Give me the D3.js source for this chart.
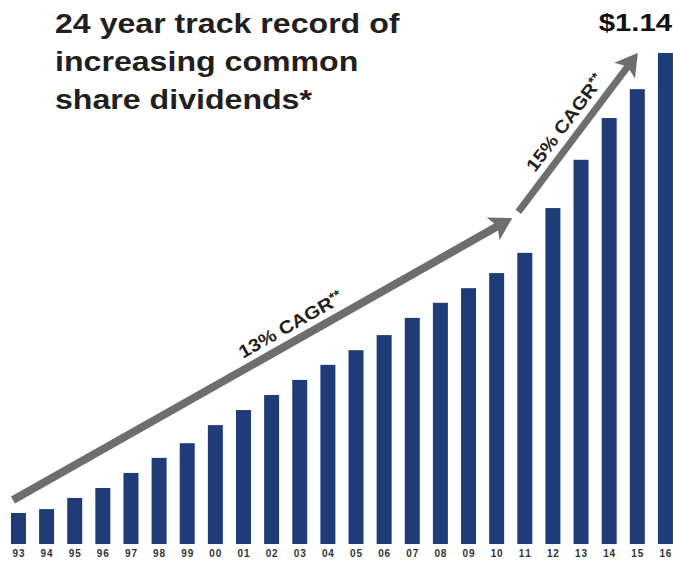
<!DOCTYPE html>
<html>
<head>
<meta charset="utf-8">
<script src="https://cdn.jsdelivr.net/npm/d3@7"></script>
<style>
  body { margin: 0; background: #fff; }
  text { font-family: "Liberation Sans", Arial, Helvetica, sans-serif; }
</style>
</head>
<body>
<div id="chart"></div>
<script>
// fiscal years and dividend per share ($)
var years = ["93","94","95","96","97","98","99","00","01","02","03","04",
             "05","06","07","08","09","10","11","12","13","14","15","16"];
var dividends = [0.072, 0.081, 0.107, 0.130, 0.165, 0.200, 0.234, 0.276, 0.311, 0.346, 0.381, 0.416,
                 0.450, 0.485, 0.525, 0.560, 0.594, 0.629, 0.676, 0.780, 0.892, 0.989, 1.056, 1.14];
var titleLines = ["24 year track record of", "increasing common", "share dividends*"];
var topLabel = "$1.14";
var cagrLabels = ["13% CAGR**", "15% CAGR**"];

var width = 673, height = 561;
var barColor = "#1f3c78", arrowColor = "#6e6e6e";
var stretch = 1.22; // the source text is drawn a bit wider than normal

var svg = d3.select("#chart").append("svg")
    .attr("width", width)
    .attr("height", height);

var x = d3.scaleBand()
    .domain(years)
    .range([4.4, 679.5])
    .paddingInner(0.467)
    .paddingOuter(0.2335);

var y = d3.scaleLinear()
    .domain([0, 1.14])
    .range([544, 53]);

// bars
svg.selectAll(".bar")
    .data(dividends)
    .enter().append("rect")
    .attr("class", "bar")
    .attr("x", (d, i) => x(years[i]))
    .attr("y", d => y(d))
    .attr("width", x.bandwidth())
    .attr("height", d => y(0) - y(d))
    .attr("fill", barColor);

// year labels
svg.selectAll(".year")
    .data(years)
    .enter().append("text")
    .attr("class", "year")
    .attr("x", d => x(d) + x.bandwidth() / 2)
    .attr("y", 557)
    .attr("text-anchor", "middle")
    .attr("font-size", "10px")
    .attr("font-weight", "bold")
    .attr("fill", "#333")
    .attr("textLength", 12)
    .text(d => d);

// title
svg.append("g")
    .attr("transform", "translate(55,33) scale(1.19,1)")
    .append("text")
    .attr("font-size", "27px")
    .attr("font-weight", "bold")
    .attr("fill", "#231f20")
    .selectAll("tspan")
    .data(titleLines)
    .enter().append("tspan")
    .attr("x", 0)
    .attr("dy", (d, i) => i === 0 ? 0 : 38)
    .text(d => d);

// value label on last bar
svg.append("g")
    .attr("transform", "translate(672,31) scale(" + stretch + ",1)")
    .append("text")
    .attr("text-anchor", "end")
    .attr("font-size", "24px")
    .attr("font-weight", "bold")
    .attr("fill", "#111")
    .text(topLabel);

// CAGR arrows: start/end in data space
var arrows = [
    { x0: x("93") + 2, v0: 0.102, x1: x("11") - 5, v1: 0.757, w: 8, label: cagrLabels[0], t: 0.572 },
    { x0: x("11") + 1, v0: 0.771, x1: x("15") + 8, v1: 1.14, w: 7, label: cagrLabels[1], t: 0.5 }
];

arrows.forEach(function(a) {
    var sx = a.x0, sy = y(a.v0), ex = a.x1, ey = y(a.v1);
    var ang = Math.atan2(ey - sy, ex - sx);
    var len = Math.hypot(ex - sx, ey - sy);
    var g = svg.append("g")
        .attr("transform", "translate(" + sx + "," + sy + ") rotate(" + (ang * 180 / Math.PI) + ")");
    var headLen = 20, headW = 13;
    g.append("line")
        .attr("x1", 0).attr("y1", 0)
        .attr("x2", len - headLen + 4).attr("y2", 0)
        .attr("stroke", arrowColor)
        .attr("stroke-width", a.w);
    g.append("path")
        .attr("d", "M" + len + ",0 L" + (len - headLen - 2) + "," + (-headW) +
                   " L" + (len - headLen + 3) + ",0 L" + (len - headLen - 2) + "," + headW + " Z")
        .attr("fill", arrowColor);
    var t = g.append("g")
        .attr("transform", "translate(" + (len * a.t) + ",-10) scale(1.12,1)")
        .append("text")
        .attr("text-anchor", "middle")
        .attr("font-size", "18px")
        .attr("font-weight", "bold")
        .attr("fill", "#231f20")
        .text(a.label.replace("**", ""));
    t.append("tspan")
        .attr("font-size", "13px")
        .attr("dy", -5)
        .text("**");
});
</script>
</body>
</html>
